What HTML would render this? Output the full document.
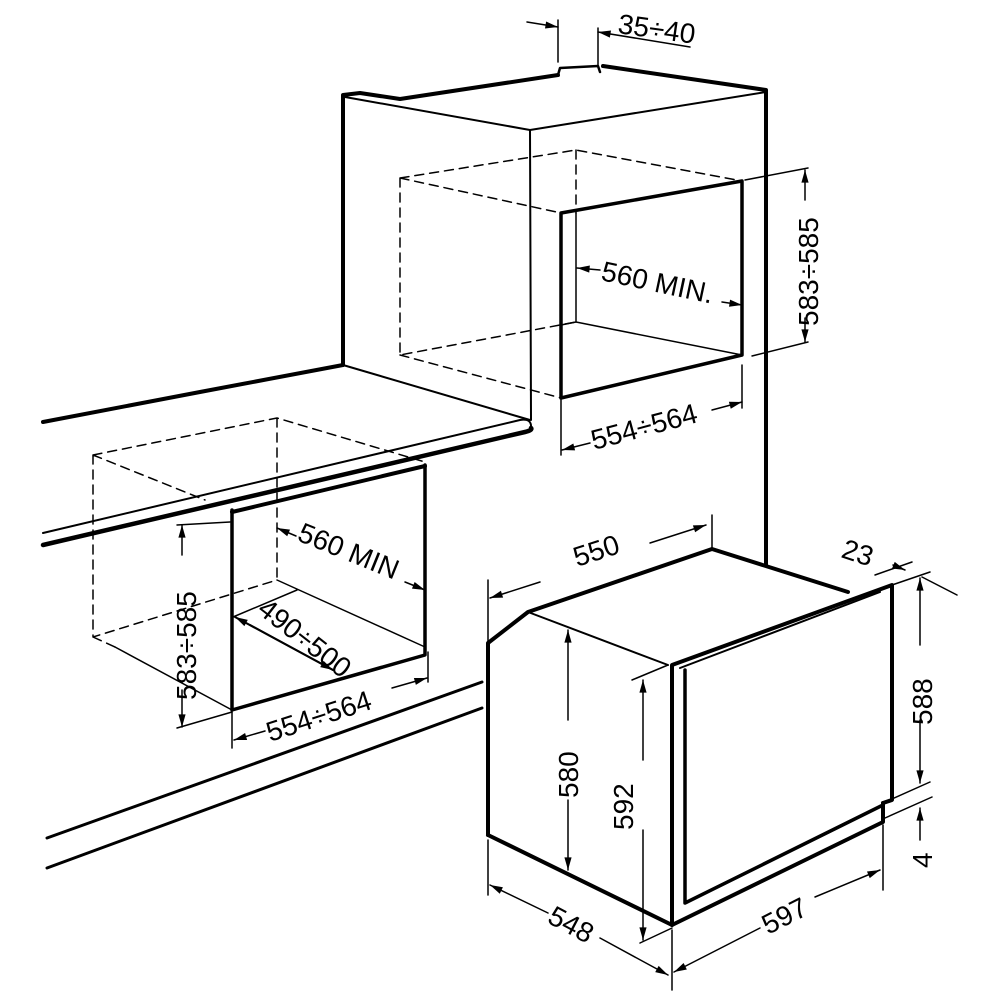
<!DOCTYPE html>
<html><head><style>
html,body{margin:0;padding:0;background:#fff}
svg{display:block}
text{font-family:"Liberation Sans",Arial,sans-serif;font-size:28px;fill:#000}
</style></head><body>
<svg width="1000" height="1000" viewBox="0 0 1000 1000" xmlns="http://www.w3.org/2000/svg">
<defs>
<marker id="a" viewBox="0 0 14 10" refX="14" refY="5" markerWidth="15" markerHeight="9" orient="auto-start-reverse" markerUnits="userSpaceOnUse"><path d="M0,1 L14,5 L0,9 Z" fill="#000"/></marker>
</defs>
<g fill="none" stroke="#000" stroke-linecap="round" stroke-linejoin="round">
<path d="M343,365 L343,95 L360,93 L400,99 L558,75" stroke-width="4"/>
<path d="M558,75 L560,68 L598,66 L600,72" stroke-width="2.5"/>
<path d="M603,66 L766,90 L766,565" stroke-width="4"/>
<path d="M345,97 L530,130 L766,92" stroke-width="2"/>
<path d="M530,130 L531,420" stroke-width="2"/>
<path d="M343,365 L530,420" stroke-width="2"/>
<path d="M558,20 L558,62 M598,28 L598,66" stroke-width="1.5"/>
<path d="M527,22 L558,27" stroke-width="1.5" marker-end="url(#a)"/>
<path d="M690,47 L598,32" stroke-width="1.5" marker-end="url(#a)"/>
<path d="M561,398 L561,213 L742,181 L742,355 L561,398" stroke-width="3.5"/>
<path d="M576,213 L576,322 L742,355" stroke-width="1.5"/>
<path d="M576,322 L561,325" stroke-width="1.5"/>
<path d="M400,178 L576,150 L742,181 M400,178 L400,355 L576,322 M400,178 L561,213 M400,355 L561,398 M576,150 L576,213" stroke-width="1.5" stroke-dasharray="9,6"/>
<path d="M600,270 L577,268" stroke-width="1.5" marker-end="url(#a)"/>
<path d="M722,302 L742,305" stroke-width="1.5" marker-end="url(#a)"/>
<path d="M745,180 L808,168 M752,356 L808,342" stroke-width="1.5"/>
<path d="M805,200 L805,170" stroke-width="1.5" marker-end="url(#a)"/>
<path d="M805,318 L805,342" stroke-width="1.5" marker-end="url(#a)"/>
<path d="M561,400 L561,455 M742,365 L742,408" stroke-width="1.5"/>
<path d="M590,443 L562,450" stroke-width="1.5" marker-end="url(#a)"/>
<path d="M712,410 L742,402" stroke-width="1.5" marker-end="url(#a)"/>
<path d="M43,422 L200,392 L343,365" stroke-width="4"/>
<path d="M43,533 L520,420 Q532,418 531,428" stroke-width="2"/>
<path d="M43,545 L525,432 Q533,430 531,428" stroke-width="4.5"/>
<path d="M232,710 L232,510 M425,465 L425,655 L232,710" stroke-width="3.5"/>
<path d="M232,512 L425,466" stroke-width="4"/>
<path d="M115,647 L232,710 M233,617 L297,590 M277,580 L425,647" stroke-width="1.5"/>
<path d="M93,455 L277,418 L425,462 M93,455 L93,637 L277,580 M93,455 L205,500 M277,418 L277,580 M93,637 L115,647" stroke-width="1.5" stroke-dasharray="9,6"/>
<path d="M296,536 L277,528" stroke-width="1.5" marker-end="url(#a)"/>
<path d="M405,582 L425,590" stroke-width="1.5" marker-end="url(#a)"/>
<path d="M333,670 L235,617" stroke-width="2" marker-end="url(#a)"/>
<path d="M250,625 L333,670" stroke-width="2" marker-end="url(#a)"/>
<path d="M177,525 L230,522 M177,728 L232,712" stroke-width="1.5"/>
<path d="M182,555 L182,525" stroke-width="1.5" marker-end="url(#a)"/>
<path d="M182,690 L182,727" stroke-width="1.5" marker-end="url(#a)"/>
<path d="M232,712 L232,748 M428,652 L428,682" stroke-width="1.5"/>
<path d="M265,731 L234,740" stroke-width="1.5" marker-end="url(#a)"/>
<path d="M392,688 L427,678" stroke-width="1.5" marker-end="url(#a)"/>
<path d="M47,838 L482,682 M47,868 L482,708" stroke-width="3"/>
<path d="M488,835 L488,643 L528,612 L712,549 L848,592" stroke-width="4"/>
<path d="M528,612 L668,665" stroke-width="2"/>
<path d="M488,835 L672,925 L883,822 L883,803" stroke-width="4"/>
<path d="M672,925 L672,665 L892,585 L892,800 L883,803" stroke-width="4"/>
<path d="M680,668 L880,592" stroke-width="2"/>
<path d="M685,670 L685,903 L883,805" stroke-width="3.5"/>
<path d="M488,580 L488,650 M712,515 L712,549" stroke-width="1.5"/>
<path d="M540,582 L490,598" stroke-width="1.5" marker-end="url(#a)"/>
<path d="M650,543 L706,525" stroke-width="1.5" marker-end="url(#a)"/>
<path d="M893,565 L905,570" stroke-width="1.5" marker-end="url(#a)"/>
<path d="M875,575 L912,562 M892,585 L930,572 M922,577 L957,595 M883,803 L930,782 M885,818 L932,797" stroke-width="1.5"/>
<path d="M920,645 L920,578" stroke-width="1.5" marker-end="url(#a)"/>
<path d="M920,720 L920,783" stroke-width="1.5" marker-end="url(#a)"/>
<path d="M920,840 L920,808" stroke-width="1.5" marker-end="url(#a)"/>
<path d="M568,720 L568,630" stroke-width="1.5" marker-end="url(#a)"/>
<path d="M568,800 L568,870" stroke-width="1.5" marker-end="url(#a)"/>
<path d="M632,680 L668,665 M640,943 L672,928" stroke-width="1.5"/>
<path d="M643,760 L643,680" stroke-width="1.5" marker-end="url(#a)"/>
<path d="M643,830 L643,940" stroke-width="1.5" marker-end="url(#a)"/>
<path d="M488,840 L488,895 M672,930 L672,990" stroke-width="1.5"/>
<path d="M548,913 L490,885" stroke-width="1.5" marker-end="url(#a)"/>
<path d="M600,938 L668,975" stroke-width="1.5" marker-end="url(#a)"/>
<path d="M883,825 L883,890" stroke-width="1.5"/>
<path d="M760,928 L674,972" stroke-width="1.5" marker-end="url(#a)"/>
<path d="M815,897 L880,870" stroke-width="1.5" marker-end="url(#a)"/>
</g>
<text transform="translate(617,33) rotate(8)">35÷40</text>
<text transform="translate(600,280) rotate(12)">560 MIN.</text>
<text transform="translate(818,326) rotate(-90)">583÷585</text>
<text transform="translate(594,450) rotate(-15)">554÷564</text>
<text transform="translate(296,540) rotate(22)">560 MIN</text>
<text transform="translate(256,612) rotate(38)">490÷500</text>
<text transform="translate(196,700) rotate(-90)">583÷585</text>
<text transform="translate(270,742) rotate(-18)">554÷564</text>
<text transform="translate(577,567) rotate(-18)">550</text>
<text transform="translate(840,557) rotate(18)">23</text>
<text transform="translate(932,725) rotate(-90)">588</text>
<text transform="translate(932,868) rotate(-90)">4</text>
<text transform="translate(578,798) rotate(-90)">580</text>
<text transform="translate(633,830) rotate(-90)">592</text>
<text transform="translate(546,922) rotate(28)">548</text>
<text transform="translate(768,935) rotate(-27)">597</text>
</svg>
</body></html>
